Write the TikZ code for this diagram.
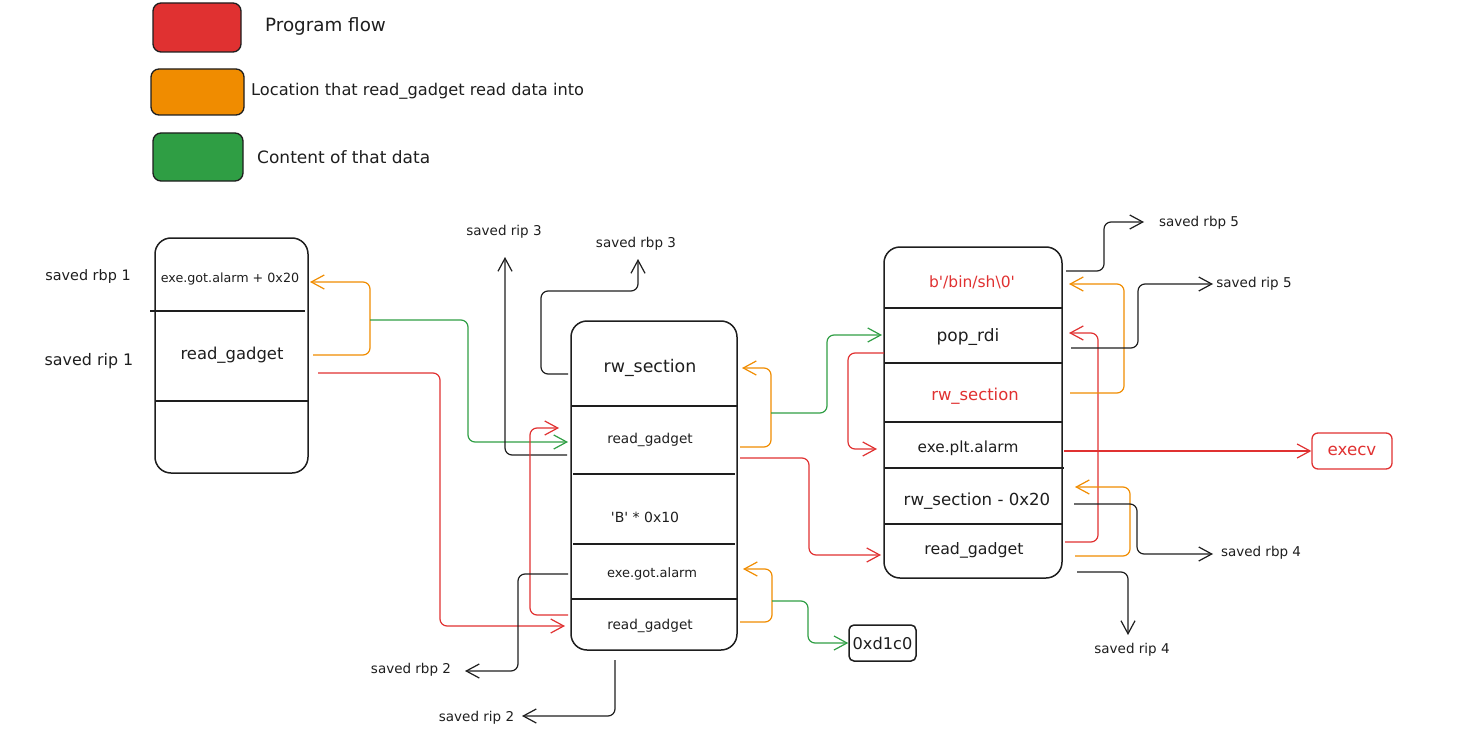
\documentclass[tikz,border=0pt]{standalone}
\usepackage{fontspec}
\setmainfont{DejaVu Sans}[Ligatures=TeXOff]
\usetikzlibrary{arrows.meta,calc}
\definecolor{xred}{HTML}{E03131}
\definecolor{xorg}{HTML}{F08C00}
\definecolor{xgrn}{HTML}{2F9E44}
\definecolor{xblk}{HTML}{1E1E1E}
\newcommand\fsz[1]{\fontsize{#1}{#1}\selectfont}
\tikzset{
  stackbox/.style={draw=xblk, line width=1.5pt, rounded corners=16pt, outer sep=0pt, inner sep=0pt},
  divider/.style={draw=xblk, line width=1.5pt},
  cell/.style={inner sep=0pt, text=xblk},
  lbl/.style={inner sep=0pt, text=xblk, font=\fsz{13.5}},
  legbox/.style={draw=xblk, line width=1.3pt, rounded corners=8pt, inner sep=0pt},
  conn/.style={line width=1.2pt, rounded corners=7pt, -{Straight Barb[length=13pt,width=14pt]}},
  redc/.style={conn, draw=xred},
  orgc/.style={conn, draw=xorg},
  grnc/.style={conn, draw=xgrn},
  blkc/.style={conn, draw=xblk},
}
\begin{document}
\begin{tikzpicture}[x=1pt,y=-1pt]
\useasboundingbox (0,0) rectangle (1477,741);

% legend
\node[legbox, fill=xred, minimum width=88pt, minimum height=49pt] (lg1) at (197,27.5) {};
\node[cell, anchor=west, font=\fsz{18.3}] (lt1) at (265,26) {Program flow};
\node[legbox, fill=xorg, minimum width=93pt, minimum height=46pt] (lg2) at (197.5,92) {};
\node[cell, anchor=west, font=\fsz{16.2}] (lt2) at (251,91) {Location that read\_gadget read data into};
\node[legbox, fill=xgrn, minimum width=90pt, minimum height=48pt] (lg3) at (198,157) {};
\node[cell, anchor=west, font=\fsz{17}] (lt3) at (257,157) {Content of that data};

% stack 1
\node[stackbox, minimum width=153pt, minimum height=235pt] (s1) at (231.5,355.5) {};
\draw[divider] (150,311) -- (305,311);
\draw[divider] (155,401) -- (308,401);
\node[cell, font=\fsz{12.7}] (s1a) at (230,279) {exe.got.alarm + 0x20};
\node[cell, font=\fsz{16.4}] (s1b) at (232,355) {read\_gadget};
\node[lbl, font=\fsz{14.4}] (lrbp1) at (88,277) {saved rbp 1};
\node[lbl, font=\fsz{15.9}] (lrip1) at (89,361) {saved rip 1};

% stack 2
\node[stackbox, minimum width=166pt, minimum height=329pt] (s2) at (654,485.5) {};
\draw[divider] (571,406) -- (738,406);
\draw[divider] (573,474) -- (735,474);
\draw[divider] (573,544) -- (735,544);
\draw[divider] (571,599) -- (737,599);
\node[cell, font=\fsz{17.4}] (s2a) at (650,368) {rw\_section};
\node[cell, font=\fsz{13.6}] (s2b) at (650,440) {read\_gadget};
\node[cell, font=\fsz{14}] (s2c) at (645,517) {'B' * 0x10};
\node[cell, font=\fsz{13}] (s2d) at (652,574) {exe.got.alarm};
\node[cell, font=\fsz{13.6}] (s2e) at (650,626) {read\_gadget};

% stack 3
\node[stackbox, minimum width=178pt, minimum height=331pt] (s3) at (973,412.5) {};
\draw[divider] (884,308) -- (1062,308);
\draw[divider] (884,363) -- (1062,363);
\draw[divider] (884,422) -- (1062,422);
\draw[divider] (884,468) -- (1064,468);
\draw[divider] (884,524) -- (1062,524);
\node[cell, font=\fsz{15.5}, text=xred] (s3a) at (972,282) {b'/bin/sh\textbackslash 0'};
\node[cell, font=\fsz{17}] (s3b) at (968,337) {pop\_rdi};
\node[cell, font=\fsz{16.4}, text=xred] (s3c) at (975,396) {rw\_section};
\node[cell, font=\fsz{15.3}] (s3d) at (968,448) {exe.plt.alarm};
\node[cell, font=\fsz{16.6}] (s3e) at (977,501) {rw\_section - 0x20};
\node[cell, font=\fsz{15.8}] (s3f) at (974,550) {read\_gadget};

% small boxes
\node[draw=xblk, line width=1.5pt, rounded corners=5pt, minimum width=67pt, minimum height=36pt, inner sep=1pt, font=\fsz{16.2}, text=xblk] (d1c0) at (882.5,643) {0xd1c0};
\node[draw=xred, line width=1.3pt, rounded corners=6pt, minimum width=80pt, minimum height=36pt, inner sep=1pt, font=\fsz{16.7}, text=xred] (execv) at (1352,451) {execv};

% labels
\node[lbl] (lrip3) at (504,232) {saved rip 3};
\node[lbl] (lrbp3) at (636,244) {saved rbp 3};
\node[lbl] (lrbp2) at (411,670) {saved rbp 2};
\node[lbl] (lrip2) at (476.5,718) {saved rip 2};
\node[lbl] (lrbp5) at (1199,223) {saved rbp 5};
\node[lbl] (lrip5) at (1254,284) {saved rip 5};
\node[lbl] (lrbp4) at (1261,553) {saved rbp 4};
\node[lbl] (lrip4) at (1132,650) {saved rip 4};

% connectors stack 1
\draw[orgc] ($(s1.east|-s1b)+(5,0)$) -- ++(57,0) |- ($(s1.east|-s1a)+(2,3)$);
\draw[grnc] ($(s1.east|-s1b)+(62,-35)$) -- ++(98,0) |- ($(s2.west|-s2b)+(-3,2)$);
\draw[redc] ($(s1.east|-s1b)+(10,18)$) -- ++(122,0) |- ($(s2.west|-s2e)+(-6,0)$);

% connectors stack 2
\draw[blkc] ($(s2.west|-s2a)+(-3,6)$) -- ++(-27,0) -- ++(0,-83) -| ($(lrbp3)+(2,15)$);
\draw[blkc] ($(s2.west|-s2b)+(-4,15)$) -| ($(lrip3)+(1,25)$);
\draw[redc] ($(s2.west|-s2e)+(-3,-11)$) -- ++(-38,0) |- ($(s2.west|-s2b)+(-12,-12)$);
\draw[blkc] ($(s2.west|-s2d)+(-3,0)$) -- ++(-50,0) |- ($(lrbp2)+(54,1)$);
\draw[blkc] ($(s2.south)+(-39,10)$) |- ($(lrip2)+(45.5,-2)$);
\draw[orgc] ($(s2.east|-s2b)+(3,7)$) -- ++(31,0) |- ($(s2.east|-s2a)+(5,0)$);
\draw[grnc] ($(s2.east|-s2b)+(34,-27)$) -- ++(56,0) |- ($(s3.west|-s3b)+(-2,-2)$);
\draw[redc] ($(s2.east|-s2b)+(3,18)$) -- ++(69,0) |- ($(s3.west|-s3f)+(-3,5)$);
\draw[orgc] ($(s2.east|-s2e)+(3,-4)$) -- ++(32,0) |- ($(s2.east|-s2d)+(6,-5)$);
\draw[grnc] ($(s2.east|-s2e)+(35,-25)$) -- ++(36,0) |- (d1c0.west);

% connectors stack 3
\draw[redc] ($(s3.west|-s3b)+(0,16)$) -- ++(-36,0) |- ($(s3.west|-s3d)+(-7,1)$);
\draw[redc] ($(s3.east|-execv.west)+(2,0)$) -- (execv.west);
\draw[redc] ($(s3.east|-s3f)+(3,-8)$) -- ++(33,0) |- ($(s3.east|-s3b)+(7,-4)$);
\draw[orgc] ($(s3.east|-s3c)+(8,-3)$) -- ++(54,0) |- ($(s3.east|-s3a)+(7,2)$);
\draw[blkc] ($(s3.east|-s3b)+(9,11)$) -- ++(67,0) |- ($(lrip5)+(-41,0)$);
\draw[blkc] ($(s3.east|-s3a)+(4,-11)$) -- ++(38,0) |- ($(lrbp5)+(-55,-1)$);
\draw[orgc] ($(s3.east|-s3f)+(13,6)$) -- ++(55,0) |- ($(s3.east|-s3e)+(13,-14)$);
\draw[blkc] ($(s3.east|-s3e)+(12,3)$) -- ++(63,0) |- ($(lrbp4)+(-48,1)$);
\draw[blkc] ($(s3.east|-s3f)+(15,22)$) -| ($(lrip4)+(-4,-15)$);
\end{tikzpicture}
\end{document}
